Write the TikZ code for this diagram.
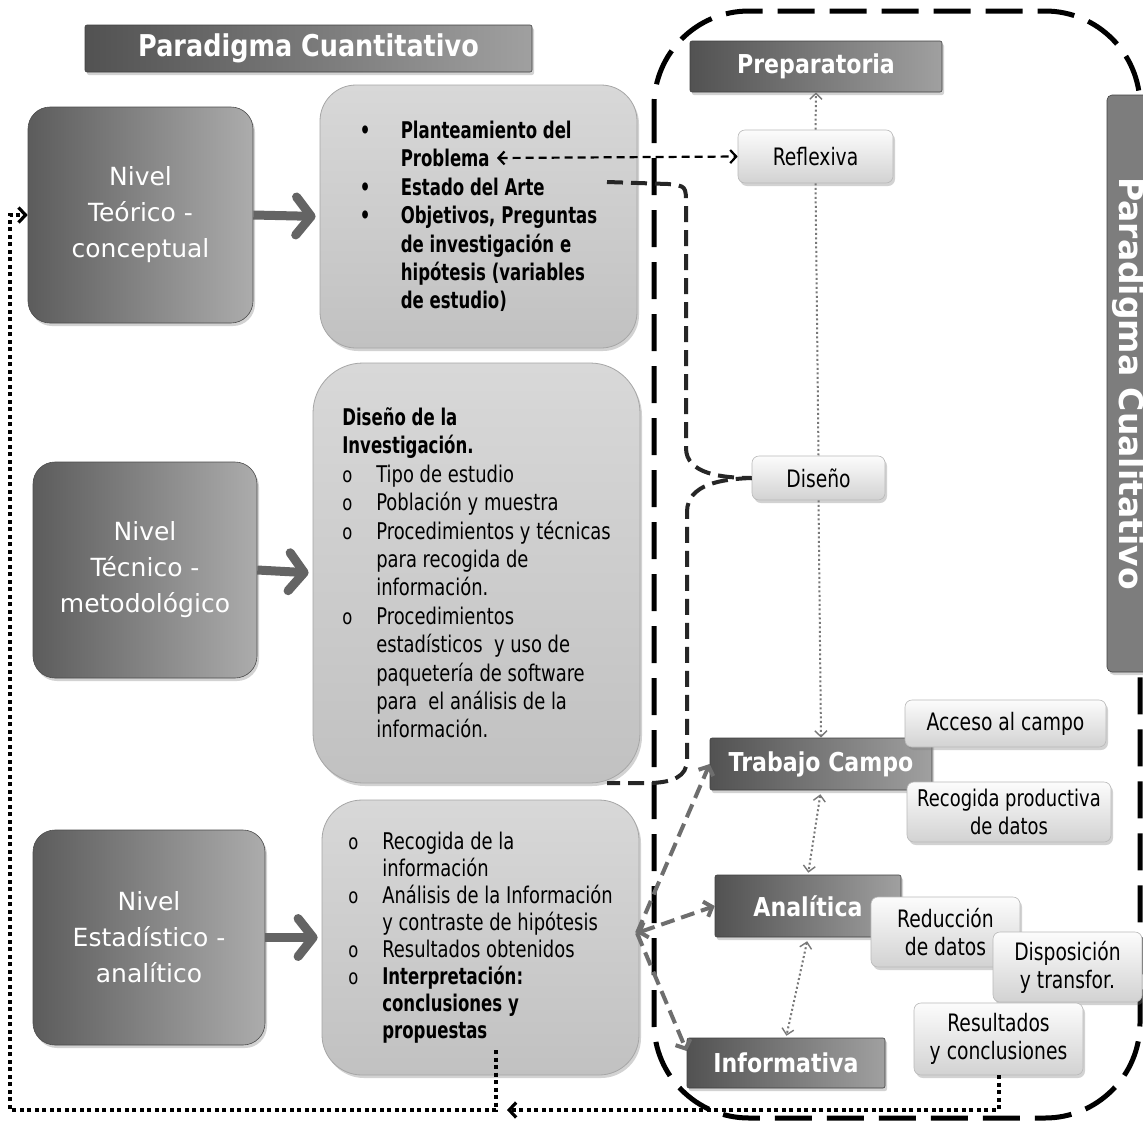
\documentclass[tikz,border=0pt]{standalone}
\usepackage{fontspec}
\setmainfont{DejaVu Sans}
\newfontfamily\headfont{DejaVu Sans}[FakeStretch=0.85]
\newfontfamily\bodyfont{DejaVu Sans}[FakeStretch=0.78,BoldFeatures={FakeStretch=0.72}]
\usetikzlibrary{arrows.meta,shadows}

\definecolor{nivL}{RGB}{92,92,92}
\definecolor{nivR}{RGB}{172,172,172}
\definecolor{barL}{RGB}{82,82,82}
\definecolor{barR}{RGB}{160,160,160}
\definecolor{barM}{RGB}{125,125,125}
\definecolor{cbTop}{RGB}{216,216,216}
\definecolor{cbBot}{RGB}{193,193,193}
\definecolor{smTop}{RGB}{252,252,252}
\definecolor{smBot}{RGB}{210,210,210}
\definecolor{linkgray}{RGB}{110,110,110}
\definecolor{arrowgray}{RGB}{100,100,100}
\definecolor{dotgray}{RGB}{120,120,120}

% list helpers for the text boxes
\newcommand{\bulp}{\makebox[41pt][l]{•}}
\newcommand{\indp}{\hspace*{41pt}}
\newcommand{\bulo}{\makebox[34pt][l]{\fontsize{21}{21}\selectfont o}}
\newcommand{\indo}{\hspace*{34pt}}

\tikzset{
  boxshadow/.style={drop shadow={shadow xshift=2pt,shadow yshift=-3pt,opacity=0.35}},
  nivel/.style={boxshadow, rounded corners=22pt, left color=nivL, right color=nivR,
    draw=gray!60!black, line width=0.6pt, text=white, align=center, inner sep=0pt,
    font=\fontsize{25}{36}\selectfont},
  textbox/.style={boxshadow, rounded corners=38pt, top color=cbTop, bottom color=cbBot,
    draw=gray!70, line width=0.8pt, text=black, align=left, inner sep=0pt},
  darkbar/.style={boxshadow, rounded corners=2pt, left color=barL, right color=barR,
    draw=gray!50!black, line width=0.6pt, text=white, inner sep=0pt},
  lightbox/.style={boxshadow, rounded corners=7pt, top color=smTop, bottom color=smBot,
    draw=gray!55, line width=0.6pt, text=black, align=center, inner sep=0pt,
    font=\bodyfont\fontsize{24}{28}\selectfont},
  thickarrow/.style={draw=arrowgray, line width=9pt,
    -{Straight Barb[round,length=15pt,width=38pt]}, shorten >=4pt},
  greydash/.style={draw=linkgray, line width=4pt, dash pattern=on 14pt off 7pt},
  greytip/.style={-{Straight Barb[length=7pt,width=16pt]}},
  pairdash/.style={draw=black, line width=2.2pt, dash pattern=on 8pt off 5pt,
    {Straight Barb[length=6pt,width=13pt]}-{Straight Barb[length=6pt,width=13pt]}},
  routedash/.style={draw=black!85, line width=4pt, dash pattern=on 16pt off 8pt},
  dotlink/.style={draw=dotgray, line width=2pt, dash pattern=on 2pt off 2.5pt},
  dottip/.style={-{Straight Barb[length=6pt,width=12pt,line width=1.4pt]}},
  dottips/.style={{Straight Barb[length=6pt,width=12pt,line width=1.4pt]}-{Straight Barb[length=6pt,width=12pt,line width=1.4pt]}},
  blkdot/.style={draw=black, line width=4pt, dash pattern=on 4pt off 3.5pt,
    -{Straight Barb[length=7pt,width=15pt,line width=3.2pt]}},
  bigframe/.style={draw=black, line width=5pt, dash pattern=on 37pt off 15pt, rounded corners=95pt},
}

\begin{document}
\begin{tikzpicture}[x=1pt,y=-1pt]
\useasboundingbox (0,0) rectangle (1143,1122);
\fill[white] (0,0) rectangle (1143,1122);

% qualitative frame
\draw[bigframe] (654,11) rectangle (1140,1118);

% quantitative column
\node[darkbar, minimum width=447pt, minimum height=47pt,
  font=\headfont\bfseries\fontsize{30}{30}\selectfont] (cuan) at (308.5,48.5) {Paradigma Cuantitativo};

\node[nivel, minimum width=225pt, minimum height=216pt] (teo) at (140.5,215) {Nivel\\Teórico -\\conceptual};
\node[nivel, minimum width=224pt, minimum height=216pt] (tec) at (145,570) {Nivel\\Técnico -\\metodológico};
\node[nivel, minimum width=232pt, minimum height=215pt] (est) at (149,937.5) {Nivel\\Estadístico -\\analítico};

\node[textbox, rounded corners=36pt, minimum width=317pt, minimum height=263pt,
  font=\bodyfont\bfseries\fontsize{23}{28.4}\selectfont] (cbA) at (478.5,216.5) {%
  \bulp Planteamiento del\\
  \indp Problema\\
  \bulp Estado del Arte\\
  \bulp Objetivos, Preguntas\\
  \indp de investigación e\\
  \indp hipótesis (variables\\
  \indp de estudio)};

\node[textbox, rounded corners=50pt, minimum width=327pt, minimum height=420pt,
  font=\bodyfont\fontsize{23}{28.4}\selectfont] (cbB) at (476.5,573) {%
  \textbf{Diseño de la}\\
  \textbf{Investigación.}\\
  \bulo Tipo de estudio\\
  \bulo Población y muestra\\
  \bulo Procedimientos y técnicas\\
  \indo para recogida de\\
  \indo información.\\
  \bulo Procedimientos\\
  \indo estadísticos\ \ y uso de\\
  \indo paquetería de software\\
  \indo para\ \ el análisis de la\\
  \indo información.};

\node[textbox, rounded corners=40pt, minimum width=317pt, minimum height=275pt,
  font=\bodyfont\fontsize{23}{27}\selectfont] (cbC) at (480.5,937.5) {%
  \bulo Recogida de la\\
  \indo información\\
  \bulo Análisis de la Información\\
  \indo y contraste de hipótesis\\
  \bulo Resultados obtenidos\\
  \bulo \textbf{Interpretación:}\\
  \indo \textbf{conclusiones y}\\
  \indo \textbf{propuestas}};

% qualitative column
\node[darkbar, minimum width=252pt, minimum height=51pt,
  font=\headfont\bfseries\fontsize{26}{26}\selectfont] (prep) at (816,66.5) {Preparatoria};
\node[darkbar, left color=barM, right color=barM, rounded corners=5pt, rotate=-90,
  minimum width=577pt, minimum height=43pt,
  font=\bfseries\fontsize{33}{33}\selectfont] (cual) at (1128.5,383.5) {Paradigma Cualitativo};

\node[lightbox, minimum width=155pt, minimum height=53pt] (refl) at (815.5,156.5) {Reflexiva};
\node[lightbox, minimum width=133pt, minimum height=44pt] (dis) at (818.5,478) {Diseño};

\node[darkbar, minimum width=222pt, minimum height=52pt,
  font=\headfont\bfseries\fontsize{26}{26}\selectfont] (trab) at (821,764) {Trabajo Campo};
\node[lightbox, minimum width=201pt, minimum height=47pt] (acc) at (1005.5,723.5) {Acceso al campo};
\node[lightbox, minimum width=204pt, minimum height=60pt,
  font=\bodyfont\fontsize{23}{28}\selectfont] (recp) at (1009,812) {Recogida productiva\\de datos};

\node[darkbar, minimum width=186pt, minimum height=62pt,
  font=\headfont\bfseries\fontsize{26}{26}\selectfont] (anal) at (808,906) {Analítica};
\node[lightbox, minimum width=149pt, minimum height=70pt] (red) at (945.5,932) {Reducción\\de datos};
\node[lightbox, minimum width=149pt, minimum height=70pt] (disp) at (1067.5,967) {Disposición\\y transfor.};

\node[darkbar, minimum width=198pt, minimum height=50pt,
  font=\headfont\bfseries\fontsize{26}{26}\selectfont] (info) at (786,1063) {Informativa};
\node[lightbox, minimum width=169pt, minimum height=72pt] (res) at (998.5,1039) {Resultados\\y conclusiones};

% level arrows
\draw[thickarrow] (teo.east) -- (cbA.west);
\draw[thickarrow] (tec.east) -- (cbB.west);
\draw[thickarrow] (est.east) -- (cbC.west);

% links between the two paradigms
\coordinate (probEnd) at (497,158);
\coordinate (arteEnd) at (607,182);
\coordinate (cbBfoot) at (607,783);
\coordinate (cbCside) at (637,933);
\coordinate (propFoot) at (496,1050);

\draw[pairdash] (probEnd) -- (refl.west);
\draw[routedash] (arteEnd) -- (668,184) .. controls (686,186) .. (686,205)
  -- (686,448) .. controls (686,474) and (722,478) .. (dis.west);
\draw[routedash] (dis.west) .. controls (722,479) and (687,484) .. (687,512)
  -- (687,760) .. controls (687,777) and (672,782) .. (652,783) -- (cbBfoot);

% phase sequence
\draw[dotlink, dottip] (refl.north) -- (prep.south);
\draw[dotlink] (refl.south) -- (dis.north);
\draw[dotlink, dottip] (dis.south) -- (trab.north);
\draw[dotlink, dottips, shorten <=4pt, shorten >=2pt] (trab.south) -- (anal.north);
\draw[dotlink, dottips, shorten <=4pt, shorten >=2pt] (anal.south) -- (info.north);

% analysis stage towards the qualitative phases
\draw[greydash, greytip] (cbCside) -- (trab.west);
\draw[greydash, greytip] (cbCside) -- ([yshift=12pt]info.west);
\draw[greydash, {Straight Barb[length=7pt,width=16pt]}-{Straight Barb[length=7pt,width=16pt]}] (cbCside) -- (anal.west);

% feedback loop
\draw[blkdot] (res.south) |- (507,1110);
\draw[blkdot] (propFoot) -- (496,1110) -- (10,1110) -- (10,215) -- (teo.west);
\end{tikzpicture}
\end{document}
